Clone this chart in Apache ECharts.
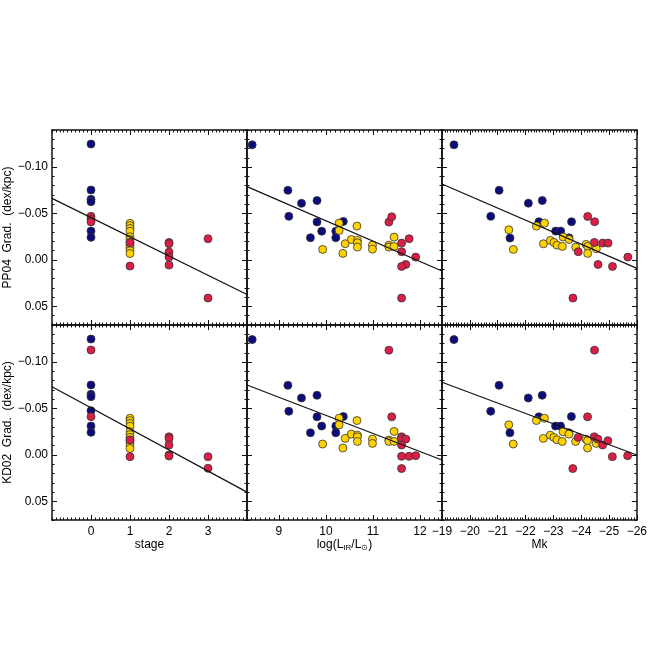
<!DOCTYPE html>
<html><head><meta charset="utf-8">
<script src="https://cdn.jsdelivr.net/npm/echarts@6/dist/echarts.min.js"></script>
<style>html,body{margin:0;padding:0;background:#fff}#c{width:650px;height:650px}</style>
</head><body><div id="c"></div>
<script>
// ---------- tick labels / ranges ----------
const yTickValues = [-0.10, -0.05, 0.00, 0.05];
const yRange = [-0.14, 0.07];
const stageTicks = [0, 1, 2, 3];
const stageRange = [-1, 4];
const lirTicks = [9, 10, 11, 12];
const lirRange = [8.32, 12.47];
const mkTicks = [-19, -20, -21, -22, -23, -24, -25, -26];
const mkRange = [-26, -19];
const yNames = ['PP04  Grad.  (dex/kpc)', 'KD02  Grad.  (dex/kpc)'];

// ---------- PP04 vs stage ----------
const pp04StageBlue = [[0,-0.1249],[0,-0.0754],[0,-0.0654],[0,-0.0628],[0,-0.0312],[0,-0.0244]];
const pp04StageYellow = [[1,-0.0395],[1,-0.037],[1,-0.034],[1,-0.031],[1,-0.025],[1,-0.022],[1,-0.019],[1,-0.016],[1,-0.013],[1,-0.010],[1,-0.007]];
const pp04StageRed = [[0,-0.047],[0,-0.044],[0,-0.041],[1,-0.0187],[1,0.0065],[2,-0.0189],[2,-0.0175],[2,-0.0085],[2,-0.0031],[2,0.0055],[3,-0.0229],[3,0.041]];
const pp04StageFit = [-0.0664, 0.0371];   // fit value at left edge, right edge

// ---------- PP04 vs log LIR ----------
const pp04LirBlue = [[8.43,-0.124],[9.19,-0.075],[9.21,-0.047],[9.48,-0.061],[9.81,-0.064],[9.81,-0.041],[9.91,-0.031],[9.67,-0.024],[10.21,-0.031],[10.21,-0.024],[10.37,-0.0415]];
const pp04LirYellow = [[10.28,-0.0397],[10.28,-0.0318],[9.93,-0.0114],[10.36,-0.0071],[10.41,-0.0175],[10.54,-0.0221],[10.66,-0.0365],[10.67,-0.0211],[10.67,-0.0185],[10.67,-0.0139],[10.99,-0.016],[10.99,-0.0117],[11.34,-0.016],[11.34,-0.0139],[11.45,-0.0247],[11.45,-0.0146]];
const pp04LirRed = [[11.34,-0.0408],[11.40,-0.0465],[11.61,-0.0182],[11.77,-0.0229],[11.61,-0.0089],[11.91,-0.0031],[11.70,0.0048],[11.61,0.0069],[11.61,0.041]];
const pp04LirFit = [-0.079, 0.0118];

// ---------- PP04 vs Mk ----------
const pp04MkBlue = [[-19.43,-0.124],[-21.05,-0.075],[-20.75,-0.047],[-21.44,-0.0236],[-22.1,-0.0612],[-22.6,-0.0641],[-22.48,-0.0412],[-23.08,-0.0311],[-23.26,-0.0311],[-23.56,-0.0239],[-23.65,-0.0412]];
const pp04MkYellow = [[-21.4,-0.0325],[-21.56,-0.0114],[-22.39,-0.0365],[-22.68,-0.0397],[-22.64,-0.0175],[-22.89,-0.0211],[-23.02,-0.0189],[-23.13,-0.016],[-23.32,-0.0146],[-23.35,-0.0247],[-23.56,-0.0221],[-23.8,-0.0139],[-24.17,-0.0168],[-24.23,-0.0146],[-24.23,-0.0071],[-24.54,-0.0121]];
const pp04MkRed = [[-23.89,-0.0089],[-24.23,-0.0469],[-24.48,-0.0412],[-24.47,-0.0189],[-24.77,-0.0182],[-24.96,-0.0182],[-24.6,0.0048],[-25.12,0.0069],[-25.67,-0.0031],[-23.7,0.041]];
const pp04MkFit = [-0.0818, 0.009];

// ---------- KD02 vs stage ----------
const kd02StageBlue = [[0,-0.1249],[0,-0.0754],[0,-0.0654],[0,-0.0628],[0,-0.0477],[0,-0.0312],[0,-0.0244]];
const kd02StageYellow = [[1,-0.0395],[1,-0.037],[1,-0.034],[1,-0.031],[1,-0.025],[1,-0.022],[1,-0.019],[1,-0.016],[1,-0.013],[1,-0.010],[1,-0.007]];
const kd02StageRed = [[0,-0.1131],[0,-0.0413],[1,-0.0162],[1,0.0018],[2,-0.0196],[2,-0.0175],[2,-0.0107],[2,0.0],[2,0.0011],[3,0.0018],[3,0.0143]];
const kd02StageFit = [-0.0735, 0.040];

// ---------- KD02 vs log LIR ----------
const kd02LirBlue = [[8.43,-0.1243],[9.19,-0.075],[9.21,-0.0471],[9.48,-0.0614],[9.81,-0.0643],[9.81,-0.0411],[9.91,-0.0311],[9.67,-0.0239],[10.21,-0.0311],[10.21,-0.0239],[10.37,-0.0414]];
const kd02LirYellow = [[10.28,-0.0396],[10.28,-0.0325],[9.93,-0.0118],[10.36,-0.0075],[10.41,-0.0179],[10.54,-0.0225],[10.66,-0.0371],[10.67,-0.0214],[10.67,-0.0196],[10.67,-0.0146],[10.99,-0.0171],[10.99,-0.0125],[11.34,-0.0161],[11.34,-0.0146],[11.45,-0.0254],[11.45,-0.0146]];
const kd02LirRed = [[11.34,-0.1129],[11.40,-0.0411],[11.61,-0.0196],[11.61,-0.0175],[11.70,-0.0171],[11.61,-0.0107],[11.61,0.0014],[11.77,0.0014],[11.91,0.0007],[11.61,0.0146]];
const kd02LirFit = [-0.0754, 0.0054];

// ---------- KD02 vs Mk ----------
const kd02MkBlue = [[-19.43,-0.1243],[-21.05,-0.075],[-20.75,-0.0471],[-21.44,-0.0239],[-22.1,-0.0614],[-22.6,-0.0643],[-22.48,-0.0411],[-23.08,-0.0311],[-23.26,-0.0311],[-23.56,-0.0239],[-23.65,-0.0414]];
const kd02MkYellow = [[-21.4,-0.0325],[-21.56,-0.0118],[-22.39,-0.0371],[-22.68,-0.0396],[-22.64,-0.0179],[-22.89,-0.0214],[-23.02,-0.0189],[-23.13,-0.0164],[-23.32,-0.0146],[-23.35,-0.025],[-23.56,-0.0225],[-23.8,-0.0146],[-24.17,-0.0171],[-24.23,-0.0154],[-24.23,-0.0075],[-24.54,-0.0125]];
const kd02MkRed = [[-23.89,-0.0189],[-24.23,-0.0411],[-24.48,-0.1129],[-24.47,-0.0196],[-24.6,-0.0171],[-24.77,-0.0107],[-24.96,-0.0154],[-25.12,0.0018],[-25.67,0.0007],[-23.7,0.0146]];
const kd02MkFit = [-0.0783, 0.000];

// ---------- styling ----------
const FONT = "'Liberation Sans', Arial, Helvetica, sans-serif";
const BLUE = '#0b0b7e', YELLOW = '#ffd200', RED = '#dc1e46';
const lefts = [52, 247, 442], tops = [130, 325], W = 195, H = 195;

function minorList(lo, hi, step) {
  const out = [];
  const a = Math.ceil(lo / step - 1e-6), b = Math.floor(hi / step + 1e-6);
  for (let i = a; i <= b; i++) out.push(+(i * step).toFixed(4));
  return out;
}
const minusFmt = (v, d) => (v < 0 ? '\u2212' : '') + Math.abs(v).toFixed(d);

const panels = [
  {col:0,row:0,xr:stageRange,xt:stageTicks,inv:false,blue:pp04StageBlue,yel:pp04StageYellow,red:pp04StageRed,fit:pp04StageFit},
  {col:1,row:0,xr:lirRange,xt:lirTicks,inv:false,blue:pp04LirBlue,yel:pp04LirYellow,red:pp04LirRed,fit:pp04LirFit},
  {col:2,row:0,xr:mkRange,xt:mkTicks,inv:true,blue:pp04MkBlue,yel:pp04MkYellow,red:pp04MkRed,fit:pp04MkFit},
  {col:0,row:1,xr:stageRange,xt:stageTicks,inv:false,blue:kd02StageBlue,yel:kd02StageYellow,red:kd02StageRed,fit:kd02StageFit,name:'stage'},
  {col:1,row:1,xr:lirRange,xt:lirTicks,inv:false,blue:kd02LirBlue,yel:kd02LirYellow,red:kd02LirRed,fit:kd02LirFit,name:'log(L{s|IR}/L{s|\u2299})'},
  {col:2,row:1,xr:mkRange,xt:mkTicks,inv:true,blue:kd02MkBlue,yel:kd02MkYellow,red:kd02MkRed,fit:kd02MkFit,name:'Mk'}
];

const grid = [], xAxis = [], yAxis = [], series = [];
const lineStyle = {color:'#111', width:1.5};
panels.forEach((p, g) => {
  grid.push({left:lefts[p.col], top:tops[p.row], width:W, height:H, containLabel:false});
  const xMinor = minorList(p.xr[0], p.xr[1], 0.1);
  const yMinor = minorList(yRange[0], yRange[1], 0.01);
  const xBase = {gridIndex:g, type:'value', min:p.xr[0], max:p.xr[1], inverse:p.inv, splitLine:{show:false}};
  const yBase = {gridIndex:g, type:'value', min:yRange[0], max:yRange[1], inverse:true, splitLine:{show:false}};
  const xi = xAxis.length;
  xAxis.push(Object.assign({}, xBase, {
    position:'bottom',
    axisLine:{show:true, onZero:false, lineStyle},
    axisTick:{show:true, inside:true, length:5, customValues:p.xt, lineStyle:{color:'#111', width:1}},
    axisLabel:{show:p.row===1, customValues:p.xt, margin:6, color:'#000', fontFamily:FONT, fontSize:12,
      formatter:v => minusFmt(v, 0)},
    name:p.row===1 ? p.name : '', nameLocation:'middle', nameGap:18,
    nameTextStyle:{color:'#000', fontFamily:FONT, fontSize:12,
      rich:{s:{fontSize:8, fontFamily:FONT, color:'#000', verticalAlign:'bottom', padding:[6,0,0,0]}}}
  }));
  xAxis.push(Object.assign({}, xBase, {position:'bottom', axisLine:{show:false, onZero:false},
    axisTick:{show:true, inside:true, length:2.5, customValues:xMinor, lineStyle:{color:'#111', width:1}}, axisLabel:{show:false}}));
  xAxis.push(Object.assign({}, xBase, {position:'top', axisLine:{show:true, onZero:false, lineStyle},
    axisTick:{show:true, inside:true, length:5, customValues:p.xt, lineStyle:{color:'#111', width:1}}, axisLabel:{show:false}}));
  xAxis.push(Object.assign({}, xBase, {position:'top', axisLine:{show:false, onZero:false},
    axisTick:{show:true, inside:true, length:2.5, customValues:xMinor, lineStyle:{color:'#111', width:1}}, axisLabel:{show:false}}));
  const yi = yAxis.length;
  yAxis.push(Object.assign({}, yBase, {
    position:'left',
    axisLine:{show:true, onZero:false, lineStyle},
    axisTick:{show:true, inside:true, length:5, customValues:yTickValues, lineStyle:{color:'#111', width:1}},
    axisLabel:{show:p.col===0, customValues:yTickValues, margin:4, color:'#000', fontFamily:FONT, fontSize:12,
      formatter:v => minusFmt(v, 2)},
    name:p.col===0 ? yNames[p.row] : '', nameLocation:'middle', nameRotate:90, nameGap:38,
    nameTextStyle:{color:'#000', fontFamily:FONT, fontSize:12}
  }));
  yAxis.push(Object.assign({}, yBase, {position:'left', axisLine:{show:false, onZero:false},
    axisTick:{show:true, inside:true, length:2.5, customValues:yMinor, lineStyle:{color:'#111', width:1}}, axisLabel:{show:false}}));
  yAxis.push(Object.assign({}, yBase, {position:'right', axisLine:{show:true, onZero:false, lineStyle},
    axisTick:{show:true, inside:true, length:5, customValues:yTickValues, lineStyle:{color:'#111', width:1}}, axisLabel:{show:false}}));
  yAxis.push(Object.assign({}, yBase, {position:'right', axisLine:{show:false, onZero:false},
    axisTick:{show:true, inside:true, length:2.5, customValues:yMinor, lineStyle:{color:'#111', width:1}}, axisLabel:{show:false}}));

  const sc = (data, color) => ({type:'scatter', xAxisIndex:xi, yAxisIndex:yi, data, symbol:'circle', symbolSize:8,
    itemStyle:{color, borderColor:'#333', borderWidth:0.8, opacity:1}, silent:true, animation:false});
  series.push(sc(p.blue, BLUE), sc(p.yel, YELLOW), sc(p.red, RED));
  // fit line: left-edge value and right-edge value (left edge is max when axis is inverted)
  const xLeft = p.inv ? p.xr[1] : p.xr[0];
  const xRight = p.inv ? p.xr[0] : p.xr[1];
  series.push({type:'line', xAxisIndex:xi, yAxisIndex:yi, data:[[xLeft, p.fit[0]], [xRight, p.fit[1]]],
    symbol:'none', lineStyle:{color:'#111', width:1.2}, silent:true, animation:false, clip:true, z:5});
});

const chart = echarts.init(document.getElementById('c'), null, {renderer:'canvas'});
chart.setOption({backgroundColor:'#fff', animation:false, grid, xAxis, yAxis, series});
</script></body></html>
